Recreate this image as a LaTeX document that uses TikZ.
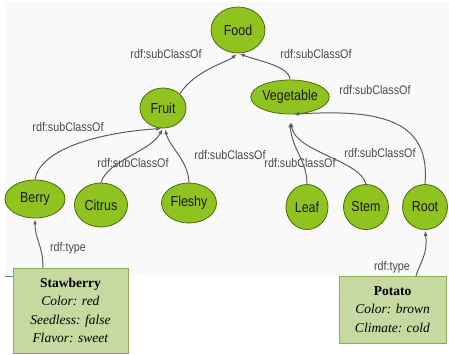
\documentclass[tikz,border=0pt]{standalone}
\usepackage{fontspec}
\setmainfont{Liberation Serif}
\newfontfamily\graphfont[FakeStretch=0.86]{Liberation Sans}
\usetikzlibrary{arrows.meta,shapes.geometric}

\begin{document}
\begin{tikzpicture}[x=1pt,y=-1pt,
  class/.style={ellipse,draw=ClassEdge,fill=ClassGreen,line width=0.8pt,inner sep=0pt,
    font=\graphfont\fontsize{14.5}{14.5}\selectfont,text=black!90},
  inst/.style={draw=BoxEdge,fill=BoxGreen,line width=1pt,align=center,inner sep=2pt,
    font=\fontsize{13.5}{18.5}\selectfont},
  rel/.style={draw=LineGray,line width=1pt,-{Latex[length=5pt,width=4pt]},shorten >=1pt},
  lbl/.style={text=LabelGray,font=\graphfont\fontsize{12.5}{12.5}\selectfont,inner sep=0pt}]
\definecolor{ClassGreen}{HTML}{8FC31F};
\definecolor{ClassEdge}{HTML}{4E6A0A};
\definecolor{BoxGreen}{HTML}{C6D9A0};
\definecolor{BoxEdge}{HTML}{8EAA5A};
\definecolor{LineGray}{HTML}{5E5E5E};
\definecolor{LabelGray}{HTML}{4A4A4A};
\definecolor{PageTeal}{HTML}{4F8A8B};

\useasboundingbox (0,0) rectangle (449,354);
\fill[gray!5] (5,2) rectangle (449,276);
\draw[PageTeal, line width=1pt] (5,276) -- (14,276);

% classes
\node[class, minimum width=54pt, minimum height=46pt] (food) at (238,30) {Food};
\node[class, minimum width=46pt, minimum height=40pt] (fruit) at (163,108) {Fruit};
\node[class, minimum width=64pt, minimum height=34pt] (vegetable) at (290,97) {Vegetable};
\node[class, minimum width=60pt, minimum height=38pt] (berry) at (35,199) {Berry};
\node[class, minimum width=53pt, minimum height=44pt] (citrus) at (101,205) {Citrus};
\node[class, minimum width=55pt, minimum height=40pt] (fleshy) at (189,203) {Fleshy};
\node[class, minimum width=42pt, minimum height=45pt] (leaf) at (307,207) {Leaf};
\node[class, minimum width=45pt, minimum height=45pt] (stem) at (366,207) {Stem};
\node[class, minimum width=45pt, minimum height=45pt] (root) at (425,207) {Root};

% instances
\node[inst, minimum width=115pt, minimum height=85pt] (stawberry) at (70.5,310.5)
  {\textbf{Stawberry}\\ \textit{Color: red}\\ \textit{Seedless: false}\\ \textit{Flavor: sweet}};
\node[inst, minimum width=107pt, minimum height=67pt] (potato) at (392.5,309.5)
  {\textbf{Potato}\\ \textit{Color: brown}\\ \textit{Climate: cold}};

% subclass edges
\draw[rel] (fruit.40) .. controls (195,70) and (228,62) .. (food.-92);
\draw[rel] (vegetable.north) .. controls (290,66) and (255,60) .. (food.-88);
\draw[rel] (berry.north) .. controls (40,150) and (95,133) .. (fruit.-92);
\draw[rel] (citrus.north) .. controls (108,160) and (150,152) .. (fruit.-90);
\draw[rel] (fleshy.north) .. controls (188,160) and (170,148) .. (fruit.-85);
\draw[rel, shorten >=8pt] (leaf.north) .. controls (307,160) and (292,150) .. (vegetable.-92);
\draw[rel, shorten >=8pt] (stem.north) .. controls (360,160) and (295,152) .. (vegetable.-90);
\draw[rel] (root.north) .. controls (430,125) and (390,108) .. (vegetable.-80);

% type edges
\draw[rel] (43,268) .. controls (43,245) and (35,240) .. (berry.south);
\draw[rel] (416,276) .. controls (420,262) and (428,255) .. (root.south);

% labels
\node[lbl] (l1) at (166,54) {rdf:subClassOf};
\node[lbl] (l2) at (316,54) {rdf:subClassOf};
\node[lbl] (l3) at (375,90) {rdf:subClassOf};
\node[lbl] (l4) at (68,127) {rdf:subClassOf};
\node[lbl] (l5) at (133,163) {rdf:subClassOf};
\node[lbl] (l6) at (230,155) {rdf:subClassOf};
\node[lbl] (l7) at (300,163) {rdf:subClassOf};
\node[lbl] (l8) at (380,153) {rdf:subClassOf};
\node[lbl] (t1) at (68,248) {rdf:type};
\node[lbl] (t2) at (392,267) {rdf:type};
\end{tikzpicture}
\end{document}
